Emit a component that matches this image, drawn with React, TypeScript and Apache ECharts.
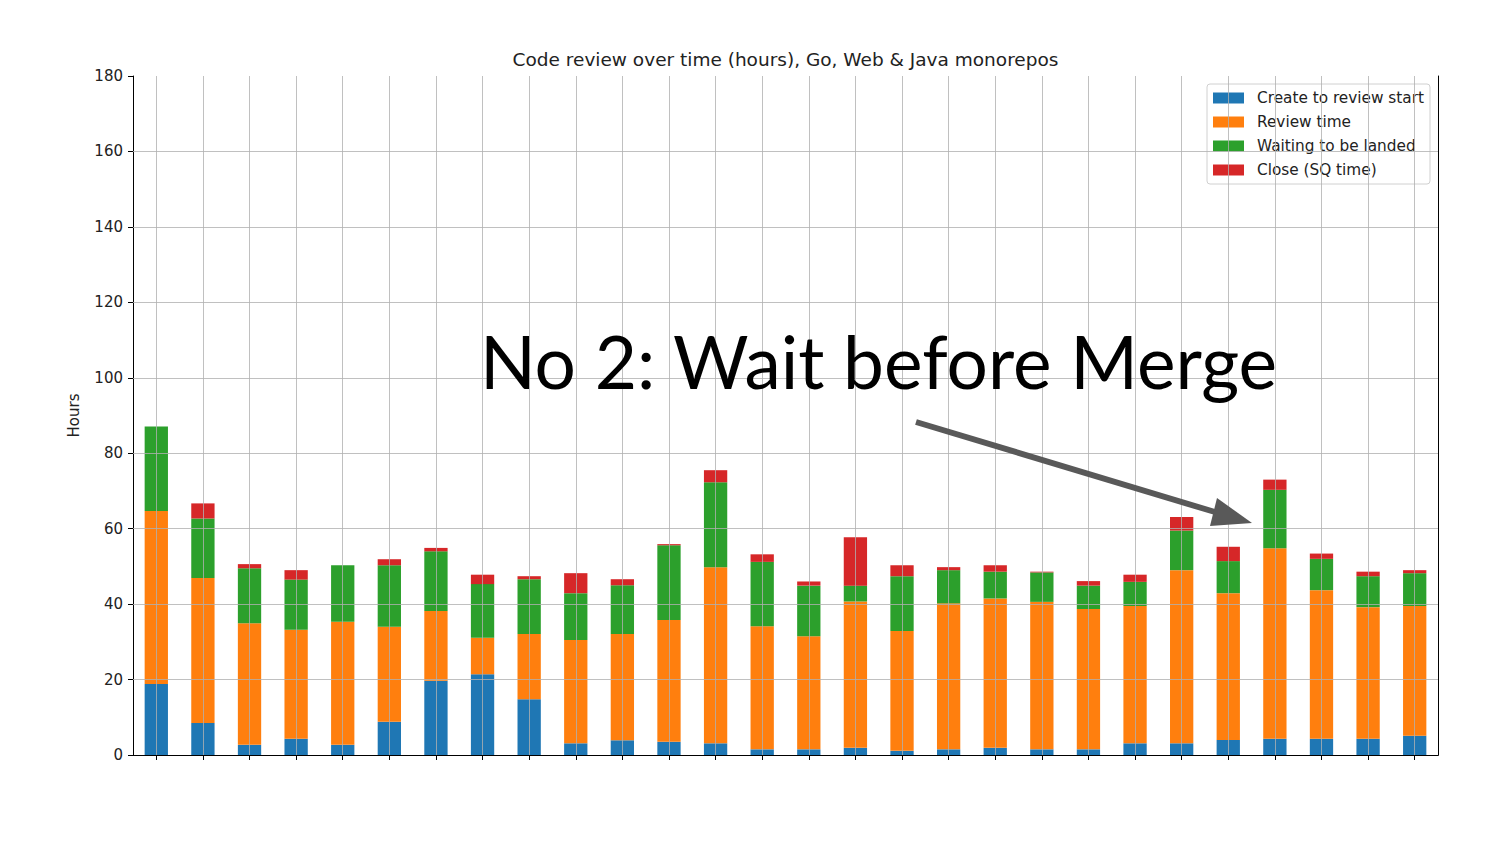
import React, { useEffect, useRef } from "react";
import * as echarts from "echarts";

const categories = [
  "1", "2", "3", "4", "5", "6", "7", "8", "9", "10", "11", "12", "13", "14",
  "15", "16", "17", "18", "19", "20", "21", "22", "23", "24", "25", "26", "27", "28",
];
const createToReviewStart = [
  18.8, 8.5, 2.7, 4.3, 2.7, 8.8, 19.7, 21.4, 14.8, 3.1, 3.9, 3.5, 3.1, 1.5,
  1.5, 1.9, 1.1, 1.5, 1.9, 1.5, 1.5, 3.1, 3.1, 4.0, 4.3, 4.3, 4.3, 5.1,
];
const reviewTime = [
  45.9, 38.4, 32.2, 28.9, 32.6, 25.2, 18.5, 9.7, 17.3, 27.4, 28.2, 32.3, 46.7, 32.6,
  30.0, 38.8, 31.8, 38.7, 39.6, 39.1, 37.2, 36.4, 45.9, 38.9, 50.5, 39.4, 34.9, 34.4,
];
const waitingToBeLanded = [
  22.4, 15.8, 14.6, 13.3, 15.0, 16.3, 15.8, 14.2, 14.5, 12.4, 12.9, 19.8, 22.5, 17.1,
  13.4, 4.2, 14.5, 8.8, 7.1, 7.8, 6.2, 6.4, 10.5, 8.5, 15.5, 8.3, 8.2, 8.7,
];
const closeSqTime = [
  0, 4.0, 1.1, 2.5, 0, 1.6, 0.9, 2.5, 0.8, 5.3, 1.6, 0.3, 3.2, 2.0,
  1.1, 12.8, 2.9, 0.8, 1.7, 0.2, 1.2, 1.9, 3.6, 3.8, 2.7, 1.4, 1.2, 0.8,
];
const seriesNames = [
  "Create to review start",
  "Review time",
  "Waiting to be landed",
  "Close (SQ time)",
];
const yTicks = [20, 40, 60, 80, 100, 120, 140, 160];

const colors = ["#1f77b4", "#ff7f0e", "#2ca02c", "#d62728"];
const baseFont = "DejaVu Sans";
const gridColor = "rgba(176,176,176,0.8)";

export default function App() {
  const ref = useRef<HTMLDivElement>(null);

  useEffect(() => {
    if (!ref.current) return;
    const chart = echarts.init(ref.current, undefined, { renderer: "svg" });
    const values = [createToReviewStart, reviewTime, waitingToBeLanded, closeSqTime];

    const series: any[] = values.map((data, i) => ({
      name: seriesNames[i],
      type: "bar",
      stack: "total",
      barWidth: "50%",
      data,
      itemStyle: { color: colors[i] },
      emphasis: { disabled: true },
    }));

    series[3].markLine = {
      silent: true,
      symbol: ["none", "none"],
      label: { show: false },
      animation: false,
      lineStyle: { color: gridColor, width: 1, type: "solid" },
      emphasis: { disabled: true },
      data: [
        ...categories.map((c) => ({ xAxis: c })),
        ...yTicks.map((v) => ({ yAxis: v })),
      ],
    };

    chart.setOption({
      animation: false,
      backgroundColor: "#ffffff",
      textStyle: { fontFamily: baseFont },
      grid: { left: 133, right: 62, top: 76, bottom: 89, containLabel: false },
      legend: {
        orient: "vertical",
        left: 1207,
        top: 84,
        padding: [5, 6, 5, 6],
        itemWidth: 31,
        itemHeight: 11,
        itemGap: 6,
        icon: "rect",
        borderColor: "#d0d0d0",
        borderWidth: 1,
        borderRadius: 3,
        backgroundColor: "rgba(255,255,255,0.85)",
        textStyle: {
          fontFamily: baseFont,
          fontSize: 15.3,
          color: "#222",
          lineHeight: 18,
          padding: [0, 0, 0, 8],
        },
        data: seriesNames,
      },
      xAxis: [
        {
          type: "category",
          data: categories,
          boundaryGap: true,
          axisLine: { show: true, lineStyle: { color: "#000", width: 1 } },
          axisTick: { show: true, alignWithLabel: true, length: 5, lineStyle: { color: "#000" } },
          axisLabel: { show: false },
          splitLine: { show: false },
        },
        {
          type: "category",
          data: categories,
          position: "top",
          axisLine: { show: true, lineStyle: { color: "#000", width: 1 } },
          axisTick: { show: false },
          axisLabel: { show: false },
          splitLine: { show: false },
        },
      ],
      yAxis: [
        {
          type: "value",
          min: 0,
          max: 180,
          interval: 20,
          name: "Hours",
          nameLocation: "middle",
          nameGap: 52,
          nameRotate: 90,
          nameTextStyle: { fontFamily: baseFont, fontSize: 15, color: "#222" },
          axisLine: { show: true, lineStyle: { color: "#000", width: 1 } },
          axisTick: { show: true, length: 5, lineStyle: { color: "#000" } },
          axisLabel: { fontFamily: baseFont, fontSize: 15, color: "#222", margin: 10 },
          splitLine: { show: false },
        },
        {
          type: "value",
          min: 0,
          max: 180,
          interval: 20,
          position: "right",
          axisLine: { show: true, lineStyle: { color: "#000", width: 1 } },
          axisTick: { show: false },
          axisLabel: { show: false },
          splitLine: { show: false },
        },
      ],
      series,
      graphic: [
        {
          type: "text",
          x: 785.5,
          y: 59,
          style: {
            text: "Code review over time (hours), Go, Web & Java monorepos",
            fontFamily: baseFont,
            fontSize: 18.5,
            fill: "#222",
            textAlign: "center",
            textVerticalAlign: "middle",
          },
        },
        {
          type: "text",
          x: 480,
          y: 361,
          z: 100,
          style: {
            text: "No 2: Wait before Merge",
            fontFamily: "Lato",
            fontSize: 73,
            fill: "#000",
            textAlign: "left",
            textVerticalAlign: "middle",
          },
        },
        {
          type: "line",
          z: 100,
          shape: { x1: 916, y1: 422, x2: 1215, y2: 512 },
          style: { stroke: "#595959", lineWidth: 6 },
        },
        {
          type: "polygon",
          z: 100,
          shape: { points: [[1217, 498], [1210, 526], [1252, 523]] },
          style: { fill: "#595959" },
        },
      ],
    });

    return () => chart.dispose();
  }, []);

  return (
    <div
      ref={ref}
      style={{ position: "fixed", left: 0, top: 0, width: 1500, height: 844, background: "#fff" }}
    />
  );
}
